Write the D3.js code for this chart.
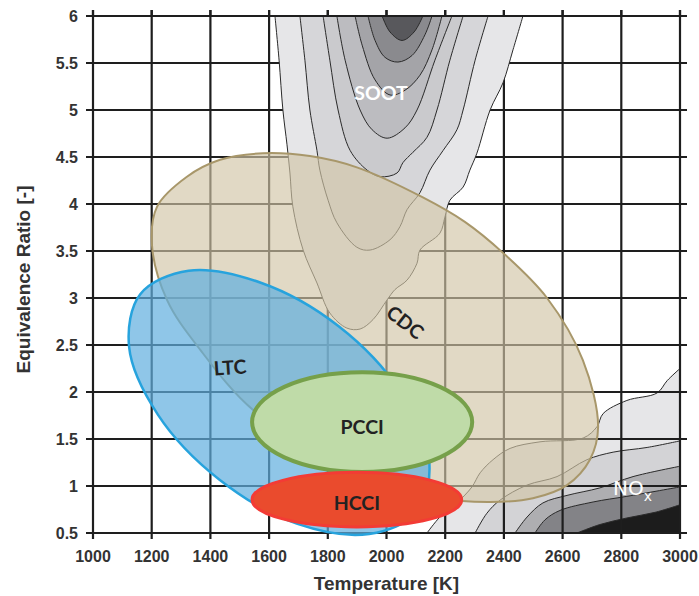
<!DOCTYPE html>
<html lang="en">
<head>
<meta charset="UTF-8">
<title>Combustion regimes</title>
<script src="https://d3js.org/d3.v7.min.js"></script>
<style>
    html,body{margin:0;padding:0;background:#fff;}
    svg{display:block;}
    .tick{font-family:"Liberation Sans",Arial,sans-serif;font-weight:bold;font-size:16px;fill:#333;}
    .title{font-family:"Liberation Sans",Arial,sans-serif;font-weight:bold;font-size:19px;fill:#333;}
    .zone{font-family:Lato,"Open Sans",sans-serif;font-weight:bold;font-size:19.5px;fill:#222;}
</style>
</head>
<body>
<svg id="chart" width="699" height="596"></svg>
<script>
// axis ticks
const xTicks = [1000,1200,1400,1600,1800,2000,2200,2400,2600,2800,3000];
const yTicks = [0.5,1,1.5,2,2.5,3,3.5,4,4.5,5,5.5,6];

// soot contours [T, phi], outer to inner, open at phi = 6
const soot = [
    [[1620,6],[1634,5.53],[1647,5.0],[1661,4.63],[1671,4.33],[1681,3.97],[1716,3.51],[1763,3.16],[1807,2.84],[1865,2.68],[1910,2.67],[1954,2.77],[2002,2.98],[2029,3.09],[2070,3.19],[2104,3.37],[2114,3.51],[2182,3.69],[2199,3.86],[2216,4.04],[2261,4.18],[2284,4.36],[2308,4.54],[2353,5.0],[2397,5.29],[2431,5.64],[2465,6]],
    [[1705,6],[1722,5.53],[1739,5.0],[1763,4.57],[1773,4.36],[1801,4.04],[1831,3.80],[1899,3.54],[1944,3.51],[2012,3.62],[2046,3.76],[2070,3.94],[2114,4.12],[2148,4.36],[2193,4.57],[2240,4.79],[2261,5.0],[2302,5.53],[2346,6]],
    [[1784,6],[1807,5.53],[1835,5.0],[1876,4.57],[1934,4.36],[1978,4.29],[2036,4.33],[2056,4.44],[2090,4.55],[2138,4.71],[2172,5.0],[2216,5.53],[2261,6]],
    [[1831,6],[1859,5.53],[1910,5.0],[1951,4.79],[2002,4.70],[2063,4.81],[2104,5.0],[2165,5.53],[2223,6]],
    [[1893,6],[1917,5.69],[1961,5.32],[2012,5.16],[2063,5.21],[2114,5.37],[2155,5.64],[2189,6]],
    [[1937,6],[1961,5.74],[1995,5.56],[2039,5.51],[2087,5.58],[2131,5.80],[2155,6]],
    [[1985,6],[2012,5.83],[2053,5.74],[2094,5.83],[2124,6]]
];
const sootFill = ['#e6e6e8','#d6d6d9','#cacacd','#bcbcc0','#a4a4a8','#8a8a8e','#58585c'];

// NOx contours [T, phi], outer to inner, closed to the lower right corner
const nox = [
    [[2138,0.5],[2182,0.67],[2240,0.82],[2291,0.99],[2319,1.14],[2363,1.28],[2421,1.40],[2523,1.47],[2670,1.51],[2717,1.63],[2738,1.77],[2819,1.91],[2922,1.99],[2956,2.12],[3000,2.25]],
    [[2302,0.5],[2342,0.71],[2387,0.85],[2479,1.01],[2581,1.10],[2683,1.28],[2772,1.36],[2888,1.41],[3000,1.48]],
    [[2438,0.5],[2479,0.67],[2533,0.82],[2615,0.90],[2727,0.98],[2840,1.10],[3000,1.21]],
    [[2506,0.5],[2540,0.64],[2591,0.74],[2704,0.83],[2819,0.89],[3000,0.99]],
    [[2649,0.5],[2727,0.59],[2819,0.66],[2915,0.72],[3000,0.80]]
];
const noxFill = ['#e6e6e8','#d3d3d6','#aeaeb1','#838387','#1c1c1c'];

// combustion regimes
const cdc = [[1201,3.56],[1218,3.97],[1320,4.29],[1433,4.47],[1579,4.54],[1739,4.51],[1899,4.39],[2124,4.07],[2267,3.81],[2397,3.48],[2547,3.00],[2669,2.34],[2721,1.63],[2693,1.28],[2615,1.01],[2499,0.87],[2353,0.83],[2182,0.87],[1978,1.06],[1773,1.38],[1545,1.81],[1365,2.45],[1252,2.98]];
const ltc = [[2106,0.73],[1941,0.49],[1694,0.60],[1430,1.07],[1221,1.76],[1123,2.48],[1161,3.04],[1326,3.29],[1574,3.16],[1837,2.70],[2046,2.01],[2145,1.29]];
const pcci = {T:1917, phi:1.68, dT:375, dPhi:0.53};
const hcci = {T:1899, phi:0.855, dT:357, dPhi:0.29};

const labels = [
    {text:'LTC', T:1467, phi:2.26, rot:-4},
    {text:'PCCI', T:1917, phi:1.63, rot:0},
    {text:'HCCI', T:1899, phi:0.82, rot:0},
    {text:'CDC', T:2063, phi:2.74, rot:38}
];

const svg = d3.select('#chart');
const x = d3.scaleLinear().domain([1000,3000]).range([93,680]);
const y = d3.scaleLinear().domain([0.5,6]).range([533,16]);

svg.append('clipPath').attr('id','plot')
    .append('rect')
    .attr('x',x(1000)).attr('y',y(6)+1)
    .attr('width',x(3000)-x(1000)).attr('height',y(0.5)-y(6)-1);

const line = d3.line().x(d=>x(d[0])).y(d=>y(d[1])).curve(d3.curveCatmullRom);
const closed = d3.line().x(d=>x(d[0])).y(d=>y(d[1])).curve(d3.curveCatmullRomClosed);

// NOx lies under the grid
svg.append('g').attr('clip-path','url(#plot)')
    .selectAll('path').data(nox).join('path')
    .attr('d',d=>line(d)+`L${x(3000)+2},${y(0.5)+2}Z`)
    .attr('fill',(d,i)=>noxFill[i])
    .attr('stroke','#2a2a2a').attr('stroke-width',1);

// grid
const grid = svg.append('g').attr('stroke','#1e1e1e').attr('stroke-width',2.2);
grid.selectAll('.v').data(xTicks).join('line')
    .attr('x1',d=>x(d)).attr('x2',d=>x(d))
    .attr('y1',y(6)-6).attr('y2',y(0.5)+6);
grid.selectAll('.h').data(yTicks).join('line')
    .attr('y1',d=>y(d)).attr('y2',d=>y(d))
    .attr('x1',x(1000)-7).attr('x2',x(3000)+7);

// soot lies over the grid
svg.append('g').attr('clip-path','url(#plot)')
    .selectAll('path').data(soot).join('path')
    .attr('d',d=>line(d)+'Z')
    .attr('fill',(d,i)=>sootFill[i])
    .attr('stroke','#2a2a2a').attr('stroke-width',1);

// top border redrawn over soot
svg.append('line')
    .attr('x1',x(1000)-7).attr('x2',x(3000)+7)
    .attr('y1',y(6)).attr('y2',y(6))
    .attr('stroke','#1e1e1e').attr('stroke-width',2.2);
svg.append('g').selectAll('line').data(xTicks).join('line')
    .attr('x1',d=>x(d)).attr('x2',d=>x(d))
    .attr('y1',y(6)-6).attr('y2',y(6))
    .attr('stroke','#1e1e1e').attr('stroke-width',2.2);

// regimes
svg.append('path').attr('d',closed(cdc))
    .attr('fill','rgb(209,197,166)').attr('fill-opacity',0.65)
    .attr('stroke','#a8976a').attr('stroke-width',2);
svg.append('path').attr('d',closed(ltc))
    .attr('fill','rgb(95,174,222)').attr('fill-opacity',0.7)
    .attr('stroke','#27a3dd').attr('stroke-width',2.5);
svg.append('ellipse')
    .attr('cx',x(pcci.T)).attr('cy',y(pcci.phi))
    .attr('rx',x(pcci.T+pcci.dT)-x(pcci.T)).attr('ry',y(pcci.phi)-y(pcci.phi+pcci.dPhi))
    .attr('fill','#bfdba8').attr('stroke','#76a04a').attr('stroke-width',4);
svg.append('ellipse')
    .attr('cx',x(hcci.T)).attr('cy',y(hcci.phi))
    .attr('rx',x(hcci.T+hcci.dT)-x(hcci.T)).attr('ry',y(hcci.phi)-y(hcci.phi+hcci.dPhi))
    .attr('fill','#ea4b2d').attr('stroke','#f33b35').attr('stroke-width',3);

// labels
svg.append('g').selectAll('text').data(labels).join('text')
    .attr('class','zone')
    .attr('text-anchor','middle').attr('dy','0.35em')
    .attr('transform',d=>`translate(${x(d.T)},${y(d.phi)}) rotate(${d.rot})`)
    .text(d=>d.text);
svg.append('text').attr('class','zone')
    .attr('x',x(1981)).attr('y',y(5.18)).attr('dy','0.35em')
    .attr('text-anchor','middle').style('fill','#fff')
    .text('SOOT');
const nt = svg.append('text')
    .attr('x',x(2772)).attr('y',y(0.90))
    .style('font-family','"DejaVu Sans",Verdana,sans-serif').style('font-size','20px').style('fill','#fff');
nt.append('tspan').text('NO');
nt.append('tspan').attr('dy',6).style('font-size','14px').text('x');

// tick labels
svg.append('g').selectAll('text').data(xTicks).join('text')
    .attr('class','tick').attr('text-anchor','middle')
    .attr('x',d=>x(d)).attr('y',562)
    .text(d=>d);
svg.append('g').selectAll('text').data(yTicks).join('text')
    .attr('class','tick').attr('text-anchor','end')
    .attr('x',78).attr('y',d=>y(d)).attr('dy','0.35em')
    .text(d=>d);

// axis titles
svg.append('text').attr('class','title').attr('text-anchor','middle')
    .attr('x',(x(1000)+x(3000))/2).attr('y',590)
    .text('Temperature [K]');
svg.append('text').attr('class','title').attr('text-anchor','middle')
    .attr('transform',`translate(30,${(y(0.5)+y(6))/2+5}) rotate(-90)`)
    .text('Equivalence Ratio [-]');
</script>
</body>
</html>
